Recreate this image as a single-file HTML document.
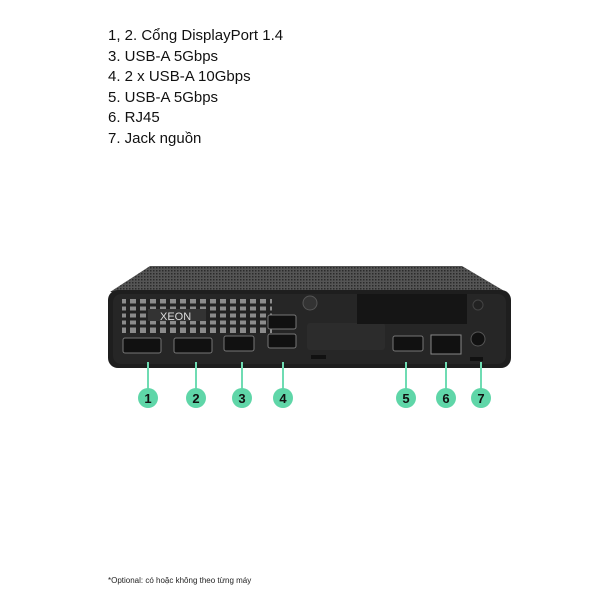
<!DOCTYPE html>
<html><head><meta charset="utf-8"><style>
html,body{margin:0;padding:0;background:#fff;}
.t{position:absolute;left:108px;font-family:"Liberation Sans","Noto Sans CJK SC",sans-serif;font-size:15px;color:#111;line-height:20px;}
</style></head><body>
<div style="position:relative;width:600px;height:600px;overflow:hidden">
<div class="t" style="top:26px">1, 2. Cổng DisplayPort 1.4</div>
<div class="t" style="top:47px">3. USB-A 5Gbps</div>
<div class="t" style="top:67px">4. 2 x USB-A 10Gbps</div>
<div class="t" style="top:88px">5. USB-A 5Gbps</div>
<div class="t" style="top:108px">6. RJ45</div>
<div class="t" style="top:129px">7. Jack nguồn</div>
<svg width="600" height="600" style="position:absolute;left:0;top:0">
<defs><pattern id="dots" width="3" height="3" patternUnits="userSpaceOnUse"><rect width="3" height="3" fill="#555"/><rect width="1.5" height="1.5" fill="#2a2a2a"/></pattern></defs>
<polygon points="150,266 462,266 506,292 110,292" fill="url(#dots)"/>
<rect x="108" y="290" width="403" height="78" rx="10" fill="#1e1e1e"/>
<rect x="113" y="294" width="393" height="70" rx="8" fill="#262626"/>
<rect x="122" y="299" width="150" height="34" fill="#8c8c8c"/>
<g stroke="#222" stroke-width="3">
<line x1="122" y1="305" x2="272" y2="305"/><line x1="122" y1="312" x2="272" y2="312"/><line x1="122" y1="319" x2="272" y2="319"/><line x1="122" y1="326" x2="272" y2="326"/>
</g>
<g stroke="#222" stroke-width="4">
<line x1="128" y1="299" x2="128" y2="333"/><line x1="138" y1="299" x2="138" y2="333"/><line x1="148" y1="299" x2="148" y2="333"/><line x1="158" y1="299" x2="158" y2="333"/><line x1="168" y1="299" x2="168" y2="333"/><line x1="178" y1="299" x2="178" y2="333"/><line x1="188" y1="299" x2="188" y2="333"/><line x1="198" y1="299" x2="198" y2="333"/><line x1="208" y1="299" x2="208" y2="333"/><line x1="218" y1="299" x2="218" y2="333"/><line x1="228" y1="299" x2="228" y2="333"/><line x1="238" y1="299" x2="238" y2="333"/><line x1="248" y1="299" x2="248" y2="333"/><line x1="258" y1="299" x2="258" y2="333"/><line x1="268" y1="299" x2="268" y2="333"/>
</g>
<rect x="148" y="309" width="58" height="12" fill="#333"/>
<text x="160" y="320" font-family="Liberation Sans" font-size="11" fill="#ddd">XEON</text>
<rect x="123" y="338" width="38" height="15" rx="2" fill="#111" stroke="#777"/>
<rect x="174" y="338" width="38" height="15" rx="2" fill="#111" stroke="#777"/>
<rect x="224" y="336" width="30" height="15" rx="2" fill="#111" stroke="#777"/>
<rect x="268" y="315" width="28" height="14" rx="2" fill="#111" stroke="#777"/>
<rect x="268" y="334" width="28" height="14" rx="2" fill="#111" stroke="#777"/>
<rect x="307" y="323" width="78" height="27" rx="3" fill="#2c2c2c"/>
<circle cx="310" cy="303" r="7" fill="#333" stroke="#555"/>
<rect x="357" y="294" width="110" height="30" fill="#151515"/>
<rect x="393" y="336" width="30" height="15" rx="2" fill="#111" stroke="#777"/>
<rect x="431" y="335" width="30" height="19" fill="#111" stroke="#888"/>
<circle cx="478" cy="339" r="7" fill="#111" stroke="#555"/>
<circle cx="478" cy="305" r="5" fill="#222" stroke="#444"/>
<rect x="311" y="355" width="15" height="4" fill="#111"/>
<rect x="470" y="357" width="13" height="4" fill="#111"/>
<g stroke="#6fdcb3" stroke-width="2">
<line x1="148" y1="362" x2="148" y2="392"/><line x1="196" y1="362" x2="196" y2="392"/><line x1="242" y1="362" x2="242" y2="392"/><line x1="283" y1="362" x2="283" y2="392"/><line x1="406" y1="362" x2="406" y2="392"/><line x1="446" y1="362" x2="446" y2="392"/><line x1="481" y1="362" x2="481" y2="392"/>
</g>
<g fill="#5fd6a8">
<circle cx="148" cy="398" r="10"/><circle cx="196" cy="398" r="10"/><circle cx="242" cy="398" r="10"/><circle cx="283" cy="398" r="10"/><circle cx="406" cy="398" r="10"/><circle cx="446" cy="398" r="10"/><circle cx="481" cy="398" r="10"/>
</g>
<g font-family="Liberation Sans" font-size="13" font-weight="bold" fill="#111" text-anchor="middle">
<text x="148" y="403">1</text><text x="196" y="403">2</text><text x="242" y="403">3</text><text x="283" y="403">4</text><text x="406" y="403">5</text><text x="446" y="403">6</text><text x="481" y="403">7</text>
</g>
<text x="108" y="583" font-family="Liberation Sans" font-size="8" fill="#222">*Optional: có hoặc không theo từng máy</text>
</svg>
</div>
</body></html>
